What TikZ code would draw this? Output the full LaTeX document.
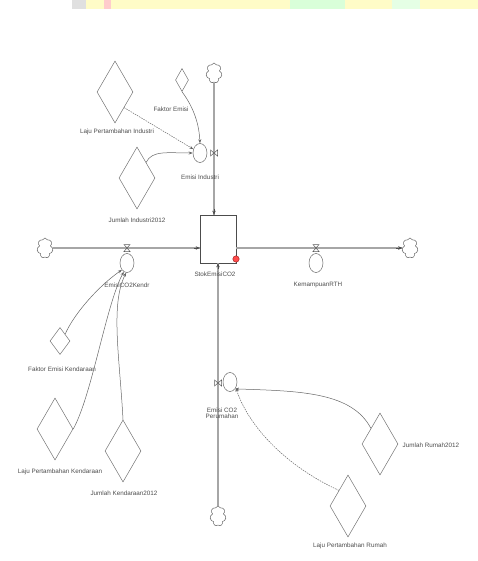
\documentclass[tikz,border=0pt]{standalone}
\usepackage{fontspec}
\setmainfont{Liberation Sans}
\usetikzlibrary{shapes.geometric,shapes.symbols,arrows.meta,calc}
\begin{document}
\begin{tikzpicture}[x=1pt,y=-1pt,
  lbl/.style={font=\fontsize{6.3}{7}\selectfont, text=black!70, inner sep=0.5pt, align=center},
  const/.style={diamond, draw=black!55, line width=0.5pt, inner sep=0pt, minimum width=36pt, minimum height=62pt},
  aux/.style={ellipse, draw=black!60, line width=0.5pt, inner sep=0pt, minimum width=14pt, minimum height=19pt},
  stockbox/.style={rectangle, draw=black!70, line width=0.6pt, minimum width=36pt, minimum height=48pt, inner sep=0pt},
  src/.style={cloud, cloud puffs=7, aspect=0.8, draw=black!60, line width=0.5pt, minimum width=16pt, minimum height=20pt, inner sep=0pt},
  pipe/.style={draw=black!60, line width=0.7pt, double=black!35, double distance=1.5pt},
  ftip/.style={draw=black!70, line width=0.6pt, -{Stealth[length=4pt,width=3.5pt]}},
  conn/.style={draw=black!60, line width=0.5pt, -{Stealth[length=4pt,width=3pt]}},
  dconn/.style={conn, dash pattern=on 1.5pt off 1pt},
  valve/.pic={\draw[black!65, line width=0.5pt, fill=white] (-3,-3.5) -- (3,-3.5) -- (-3,3.5) -- (3,3.5) -- cycle;}
]
\useasboundingbox (0,0) rectangle (478,561);
% faint top band
\fill[yellow!22] (72,0) rectangle (478,9);
\fill[black!12] (72,0) rectangle (86,9);
\fill[red!20] (104,0) rectangle (111,9);
\fill[green!15] (290,0) rectangle (345,9);
\fill[green!10] (392,0) rectangle (420,9);

% stock and sources/sinks
\node[stockbox] (S) at (218,239) {};
\node[src] (cT) at (214,73) {};
\node[src] (cB) at (218,516) {};
\node[src] (cL) at (45,248) {};
\node[src] (cR) at (410,248) {};

% pipes
\draw[pipe] (cT.south) -- (cT.south |- S.north);
\draw[ftip] ($(cT.south |- S.north)+(0,-6)$) -- (cT.south |- S.north);
\draw[pipe] (cB.north) -- (cB.north |- S.south);
\draw[ftip] ($(cB.north |- S.south)+(0,6)$) -- (cB.north |- S.south);
\draw[pipe] (cL.east) -- (cL.east -| S.west);
\draw[ftip] ($(cL.east -| S.west)+(-6,0)$) -- (cL.east -| S.west);
\draw[pipe] (cR.west -| S.east) -- (cR.west);
\draw[ftip] ($(cR.west)+(-6,0)$) -- (cR.west);

% valves
\pic[rotate=90] at (214,153) {valve};
\pic[rotate=90] at (218,383) {valve};
\pic at (127,248) {valve};
\pic at (316,248) {valve};

% red marker
\node[circle, fill=red!70, draw=red!50!black, line width=0.3pt, minimum size=6.5pt, inner sep=0pt] (rd) at (236,259) {};

% auxiliaries
\node[aux] (cEI) at (200,153) {};
\node[aux] (cEK) at (127,263) {};
\node[aux] (cRTH) at (316,263) {};
\node[aux] (cEP) at (230,382) {};

% constants
\node[const] (dLPI) at (115,92) {};
\node[const, minimum width=13pt, minimum height=23pt] (dFE) at (182,80) {};
\node[const] (dJI) at (137,178) {};
\node[const, minimum width=20pt, minimum height=27pt] (dFEK) at (60,341) {};
\node[const] (dLPK) at (55,429) {};
\node[const] (dJK) at (123,451) {};
\node[const] (dJR) at (380,444) {};
\node[const] (dLPR) at (348,506) {};

% labels
\node[lbl] (tLPI) at (117,132) {Laju Pertambahan Industri};
\node[lbl] (tFE) at (171,109) {Faktor Emisi};
\node[lbl] (tEI) at (200,177) {Emisi Industri};
\node[lbl] (tJI) at (137,220) {Jumlah Industri2012};
\node[lbl] (tEK) at (127,285) {EmisiCO2Kendr};
\node[lbl] (tS) at (215,274) {StokEmisiCO2};
\node[lbl] (tRTH) at (318,285) {KemampuanRTH};
\node[lbl] (tFEK) at (62,369) {Faktor Emisi Kendaraan};
\node[lbl] (tLPK) at (60,472) {Laju Pertambahan Kendaraan};
\node[lbl] (tJK) at (124,493) {Jumlah Kendaraan2012};
\node[lbl] (tEP) at (222,413) {Emisi CO2\\[-1.5pt]Perumahan};
\node[lbl, anchor=west] (tJR) at (402,445) {Jumlah Rumah2012};
\node[lbl] (tLPR) at (350,546) {Laju Pertambahan Rumah};

% connectors
\draw[dconn] (dLPI.south east) -- (cEI.150);
\draw[conn] (dFE.south) .. controls (194,108) and (199,124) .. (cEI.north);
\draw[conn] (dJI.north east) .. controls (152,150) and (168,153) .. (cEI.west);
\draw[conn] (dFEK.north east) .. controls (75,312) and (100,285) .. (cEK.south west);
\draw[conn] (dLPK.east) .. controls (92,395) and (106,305) .. (cEK.250);
\draw[conn] (dJK.north) .. controls (120,360) and (110,305) .. (cEK.265);
\draw[conn] (dJR.north west) .. controls (352,392) and (300,391) .. (cEP.south east);
\draw[dconn] (dLPR.north west) .. controls (290,468) and (250,430) .. (cEP.-45);
\end{tikzpicture}
\end{document}
